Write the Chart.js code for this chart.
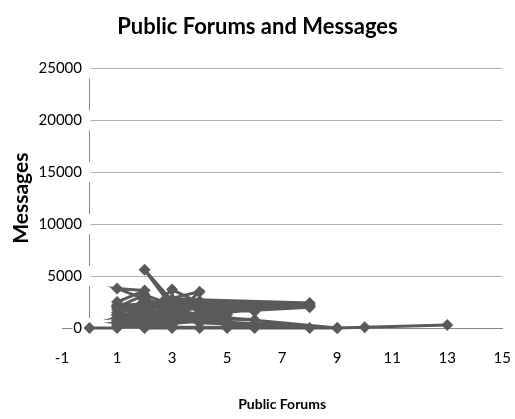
<!DOCTYPE html>
<html><head><meta charset="utf-8">
<script src="https://cdn.jsdelivr.net/npm/chart.js@4"></script>
<style>html,body{margin:0;padding:0;background:#fff;}#wrap{width:515px;height:419px;}</style>
</head><body><div id="wrap"><canvas id="c" width="515" height="419"></canvas></div>
<script>
const chartTitle = 'Public Forums and Messages';
const xTitle = 'Public Forums';
const yTitle = 'Messages';
const xTicks = [-1, 1, 3, 5, 7, 9, 11, 13, 15];
const yTicks = [0, 5000, 10000, 15000, 20000, 25000];
const forums = [0,1,1,2,1,2,1,2,3,2,3,4,2,3,4,1,2,4,3,5,2,3,8,2,8,3,8,1,2,3,4,5,6,5,4,3,2,1,2,3,4,1,2,3,6,2,3,1,2,3,4,8,2,3,4,8,1,2,3,5,2,1,3,2,4,8,2,1,3,6,2,3,9,2,1,3,4,1,2,3,4,2,3,1,4,9,10,13];
const messages = [0,0,1500,900,2500,3600,3800,2800,2000,5600,2600,1900,1300,3700,2400,1800,2200,3500,1000,1300,400,2800,2400,2500,2200,2300,2000,1000,1700,600,1100,300,0,0,0,0,0,600,1500,1900,900,300,3000,1300,800,1000,300,2000,3200,2200,1700,2300,700,800,500,0,1300,2300,1600,900,200,500,1100,1800,2600,2100,2000,2200,2400,1600,2600,1500,0,100,100,1800,1300,700,1200,400,1500,600,900,2100,700,0,80,300];

const FONT = 'Lato, "Open Sans", sans-serif';
const dark = '#5a5a5a';

new Chart(document.getElementById('c'), {
  type: 'scatter',
  data: {
    datasets: [{
      data: forums.map((x, i) => ({x: x, y: messages[i]})),
      showLine: true,
      borderColor: dark,
      backgroundColor: dark,
      borderWidth: 3,
      pointStyle: 'rectRot',
      pointRadius: 6,
      pointBorderWidth: 0,
      pointBackgroundColor: dark,
      clip: false,
      yAxisID: 'y'
    }]
  },
  options: {
    responsive: false,
    animation: false,
    layout: {padding: 0},
    plugins: {
      legend: {display: false},
      tooltip: {enabled: false},
      title: {
        display: true, text: chartTitle, color: '#000',
        font: {family: FONT, size: 22, weight: 'bold'},
        padding: {top: 14, bottom: 28}
      }
    },
    scales: {
      x: {
        type: 'linear', position: 'bottom', min: -1, max: 15,
        afterBuildTicks: s => { s.ticks = xTicks.map(v => ({value: v})); },
        grid: {display: false, drawTicks: true, tickLength: 17, tickColor: 'rgba(0,0,0,0)'},
        border: {color: '#888', width: 1},
        ticks: {font: {family: FONT, size: 15}, color: '#000', padding: 4, maxRotation: 0},
        title: {display: true, text: xTitle, color: '#000', font: {family: FONT, size: 14, weight: 'bold'}, padding: {top: 4, bottom: 6}},
        afterFit: s => { s.height = 91; }
      },
      yL: {
        type: 'linear', position: 'left', min: 0, max: 25000,
        ticks: {display: false},
        grid: {display: false, drawTicks: false},
        border: {display: false},
        title: {display: true, text: yTitle, color: '#000', font: {family: FONT, size: 21, weight: 'bold'}, padding: {top: 9, bottom: 0}},
        afterFit: s => { s.width = 62; }
      },
      y: {
        type: 'linear', position: {x: 0}, min: 0, max: 25000,
        afterBuildTicks: s => { s.ticks = yTicks.map(v => ({value: v})); },
        grid: {color: '#b0b0b0', tickLength: 12},
        border: {color: '#888', width: 1},
        ticks: {font: {family: FONT, size: 15}, color: '#000', callback: v => String(v) + '\u2002', showLabelBackdrop: true, backdropColor: '#fff', backdropPadding: 1},
        afterFit: s => { s.width = 0; }
      }
    }
  }
});
</script></body></html>
